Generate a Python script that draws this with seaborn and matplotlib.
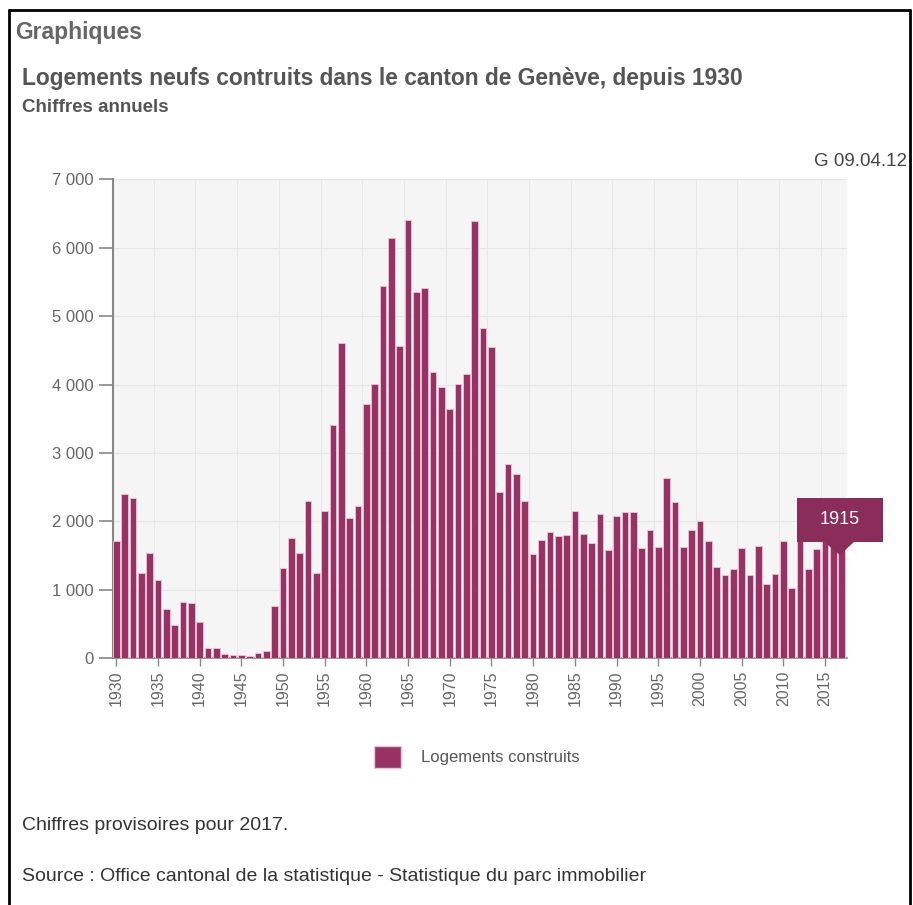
import numpy as np
import pandas as pd
import seaborn as sns
import matplotlib.pyplot as plt
from matplotlib.patches import Rectangle, Polygon
from matplotlib.lines import Line2D
from matplotlib.ticker import FuncFormatter

# données (1930 - 2017)
years = list(range(1930, 2018))
logements = [
    1707, 2405, 2341, 1249, 1532, 1141, 722, 488, 829, 815,      # 1930-1939
    537, 156, 151, 68, 49, 44, 39, 83, 102, 761,                 # 1940-1949
    1322, 1751, 1541, 2298, 1249, 2156, 3415, 4610, 2049, 2224,  # 1950-1959
    3717, 4010, 5434, 6137, 4566, 6400, 5356, 5405, 4190, 3961,  # 1960-1969
    3649, 4010, 4156, 6390, 4829, 4556, 2424, 2844, 2698, 2298,  # 1970-1979
    1527, 1727, 1844, 1790, 1795, 2156, 1820, 1678, 2107, 1576,  # 1980-1989
    2078, 2141, 2141, 1610, 1868, 1629, 2634, 2283, 1624, 1873,  # 1990-1999
    2005, 1707, 1327, 1220, 1307, 1610, 1215, 1644, 1093, 1239,  # 2000-2009
    1707, 1034, 1860, 1302, 1600, 1830, 1800, 1915,              # 2010-2017
]
serie_nom = 'Logements construits'
tooltip_valeur = '1915'

df = pd.DataFrame({'annee': years, 'valeur': logements})

W, H = 913, 905
couleur = '#993264'
gris_txt = '#555555'

sns.set_style('white')
plt.rcParams['font.family'] = ['Liberation Sans', 'DejaVu Sans']

fig = plt.figure(figsize=(W / 100, H / 100), dpi=100)

def fx(px):
    return px / W

def fy(py):
    return 1 - py / H

ax = fig.add_axes([fx(113.3), fy(658.3), fx(846.7) - fx(113.3), fy(179.3) - fy(658.3)])
ax.set_facecolor('#f5f5f5')

sns.barplot(data=df, x='annee', y='valeur', color=couleur, width=0.8,
            edgecolor='#e8c8d6', linewidth=0.6, saturation=1, ax=ax,
            label=serie_nom, zorder=3)

ax.set_xlim(-0.35, len(years) - 0.4)
ax.set_ylim(0, 7000)

# grille : horizontale tous les 1000, verticale entre les catégories
for v in range(1000, 7001, 1000):
    ax.axhline(v, color='#e6e6e6', lw=0.8, zorder=1)
for i in range(4, len(years), 5):
    ax.axvline(i + 0.5, color='#e8e8e8', lw=0.8, zorder=1)

ax.set_yticks(range(0, 7001, 1000))
ax.yaxis.set_major_formatter(FuncFormatter(lambda v, p: f'{int(v):,}'.replace(',', ' ')))
pos = [i for i, y in enumerate(years) if y % 5 == 0]
ax.set_xticks(pos)
ax.set_xticklabels([str(years[i]) for i in pos], rotation=90)

ax.tick_params(axis='y', length=10, width=1.2, color='#888888', pad=4,
               labelsize=12, labelcolor='#666666', left=True)
ax.tick_params(axis='x', length=6, width=1.0, color='#888888', pad=3,
               labelsize=11.5, labelcolor='#666666', bottom=True)

for s in ['top', 'right']:
    ax.spines[s].set_visible(False)
ax.spines['left'].set_color('#888888')
ax.spines['left'].set_linewidth(1.5)
ax.spines['bottom'].set_color('#888888')
ax.spines['bottom'].set_linewidth(1.2)
ax.set_xlabel('')
ax.set_ylabel('')
if ax.get_legend() is not None:
    ax.get_legend().remove()

# légende
h = Rectangle((0, 0), 1, 1, facecolor=couleur, edgecolor='#e8c8d6')
fig.legend([h], [serie_nom], loc='center left', bbox_to_anchor=(fx(359), fy(757)),
           frameon=False, fontsize=12, labelcolor=gris_txt,
           handlelength=1.6, handleheight=1.6, handletextpad=1.2)

# textes
fig.text(fx(15), fy(33), 'Graphiques', fontsize=16.5, fontweight='bold',
         color='#666666', va='center')
fig.text(fx(22), fy(78), 'Logements neufs contruits dans le canton de Genève, depuis 1930',
         fontsize=16.4, fontweight='bold', color=gris_txt, va='center')
fig.text(fx(22), fy(108), 'Chiffres annuels', fontsize=13.5, fontweight='bold',
         color=gris_txt, va='center')
fig.text(fx(907), fy(161), 'G 09.04.12', fontsize=13.5, color='#444444',
         ha='right', va='center')
fig.text(fx(22), fy(825), 'Chiffres provisoires pour 2017.', fontsize=14,
         color='#333333', va='center')
fig.text(fx(22), fy(876),
         'Source : Office cantonal de la statistique - Statistique du parc immobilier',
         fontsize=14, color='#333333', va='center')

# info-bulle
tip = '#8b2d5a'
fig.add_artist(Rectangle((fx(797), fy(542)), fx(883) - fx(797), fy(498) - fy(542),
                         facecolor=tip, edgecolor='none', zorder=5))
fig.add_artist(Polygon([(fx(823), fy(541)), (fx(855), fy(541)), (fx(840), fy(555))],
                       closed=True, facecolor=tip, edgecolor='none', zorder=5))
fig.text(fx(840), fy(520), tooltip_valeur, color='white', fontsize=13,
         ha='center', va='center', zorder=6)

# cadre
for xs, ys in [([9, 9], [10, 905]), ([9, 910], [10, 10]), ([910, 910], [10, 905])]:
    fig.add_artist(Line2D([fx(x) for x in xs], [fy(y) for y in ys], color='black', lw=2))

fig.savefig('out.png', dpi=100)
